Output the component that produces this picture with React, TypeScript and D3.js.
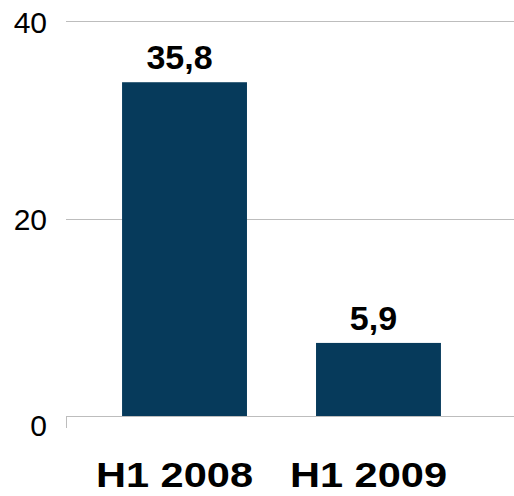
import React from 'react';
import * as d3 from 'd3';

const categories = ['H1 2008', 'H1 2009'];
const barValues = [33.8, 7.4];
const valueLabels = ['35,8', '5,9'];
const yTicks = [0, 20, 40];

const width = 514;
const height = 496;

const App = () => {
  const x = d3.scaleBand().domain(categories).range([66, 497]).paddingInner(0.356).paddingOuter(0.289);
  const y = d3.scaleLinear().domain([0, 40]).range([416, 21]);
  const font = '"Liberation Sans", Arial, sans-serif';

  return (
    <svg
      width={width}
      height={height}
      style={{ position: 'absolute', left: 0, top: 0, background: '#fff' }}
      fontFamily={font}
    >
      {/* grid + axis */}
      {yTicks.map((t) => (
        <g key={t}>
          <line x1={66} x2={width} y1={Math.round(y(t)) + 0.5} y2={Math.round(y(t)) + 0.5} stroke="#bdbdbd" strokeWidth={1} />
          <text
            x={47}
            y={y(t) + (t === 0 ? 9 : 1)}
            textAnchor="end"
            dominantBaseline="central"
            fontSize={30}
            fill="#000"
          >
            {t}
          </text>
        </g>
      ))}
      <line x1={66.5} x2={66.5} y1={416} y2={428} stroke="#bdbdbd" strokeWidth={1} />

      {/* bars */}
      {categories.map((c, i) => (
        <g key={c}>
          <rect x={x(c)} y={y(barValues[i])} width={x.bandwidth()} height={y(0) - y(barValues[i])} fill="#063a5b" />
          <text
            x={x(c)! + x.bandwidth() / 2 - 5}
            y={y(barValues[i]) - 13}
            textAnchor="middle"
            fontSize={34}
            fontWeight="bold"
            fill="#000"
          >
            {valueLabels[i]}
          </text>
          <text
            x={x(c)! + x.bandwidth() / 2 - 10}
            y={487}
            textAnchor="middle"
            fontSize={35}
            fontWeight="bold"
            textLength={157}
            lengthAdjust="spacingAndGlyphs"
            fill="#000"
          >
            {c}
          </text>
        </g>
      ))}
    </svg>
  );
};

export default App;
